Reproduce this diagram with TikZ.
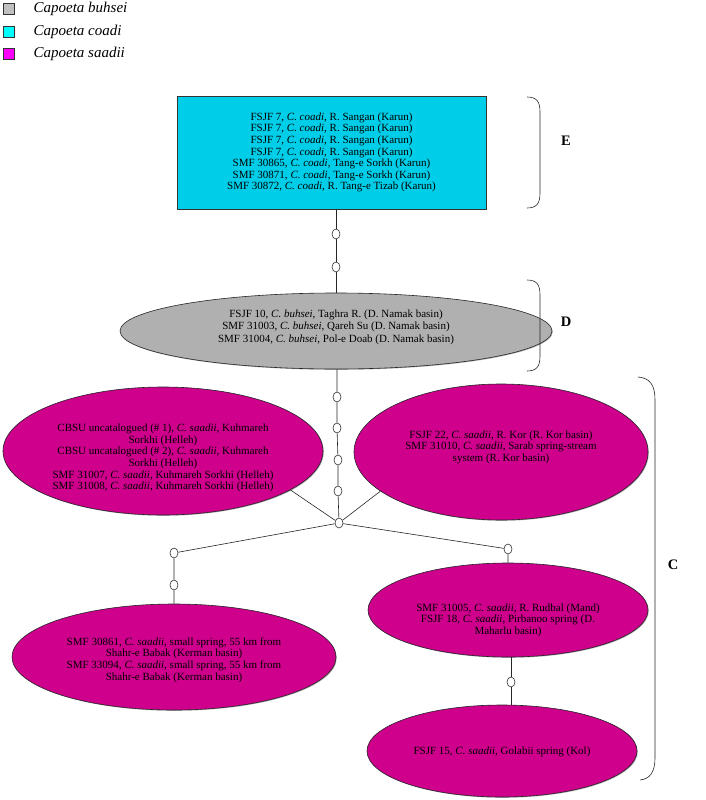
\documentclass[tikz,border=0pt]{standalone}
\usepackage{fontspec}
\setmainfont{Liberation Serif}
\usepackage{xcolor}
\usetikzlibrary{shapes.geometric, positioning, shadows}
\definecolor{buhsei}{RGB}{176,176,176}
\definecolor{coadi}{RGB}{0,206,232}
\definecolor{saadii}{RGB}{206,0,140}
\definecolor{lgray}{RGB}{192,192,192}
\definecolor{lcyan}{RGB}{0,255,255}
\definecolor{lmagenta}{RGB}{255,0,255}
\tikzstyle{link} = [line width=0.6pt, black!85]

\begin{document}
\begin{tikzpicture}[x=1pt, y=-1pt,
    clade/.style={ellipse, draw=black!85, fill=saadii, line width=0.6pt, inner sep=0pt, drop shadow={shadow xshift=0.8pt, shadow yshift=-0.8pt, opacity=0.6}},
    haplo/.style={ellipse, draw=black!85, fill=white, line width=0.6pt, minimum width=8pt, minimum height=10pt, inner sep=0pt},
    rec/.style={align=center, inner sep=0pt, font=\fontsize{11}{11.6}\selectfont},
    legbox/.style={rectangle, draw=black!80, line width=0.8pt, minimum size=11pt, inner sep=0pt},
    legtext/.style={inner sep=0pt, font=\fontsize{15}{17}\selectfont\itshape},
    grp/.style={font=\fontsize{14.5}{16}\selectfont\bfseries},
    node distance=0.2cm and 0.5cm
  ]
    \useasboundingbox (0,0) rectangle (706,800);

    % Legend
    \node[legbox, fill=lgray] (lg1) at (8.5,8.5) {};
    \node[legbox, fill=lcyan] (lg2) at (8.5,31.5) {};
    \node[legbox, fill=lmagenta] (lg3) at (8.5,53.5) {};
    \node[legtext, right=19pt of lg1] (lt1) {Capoeta buhsei};
    \node[legtext, right=19pt of lg2] (lt2) {Capoeta coadi};
    \node[legtext, right=19pt of lg3] (lt3) {Capoeta saadii};

    % Group E
    \node[rectangle, draw=black!80, fill=coadi, line width=0.6pt, minimum width=309pt, minimum height=113pt, rec] (boxE) at (331.5,152.5)
      {FSJF 7, \textit{C. coadi}, R. Sangan (Karun)\\
       FSJF 7, \textit{C. coadi}, R. Sangan (Karun)\\
       FSJF 7, \textit{C. coadi}, R. Sangan (Karun)\\
       FSJF 7, \textit{C. coadi}, R. Sangan (Karun)\\
       SMF 30865, \textit{C. coadi}, Tang-e Sorkh (Karun)\\
       SMF 30871, \textit{C. coadi}, Tang-e Sorkh (Karun)\\
       SMF 30872, \textit{C. coadi}, R. Tang-e Tizab (Karun)};
    \node[haplo] (hE1) at (336,234) {};
    \node[haplo] (hE2) at (336,267) {};

    % Group D
    \node[clade, fill=buhsei, minimum width=432pt, minimum height=76pt] (ellD) at (336,331) {};
    \node[rec, font=\fontsize{11}{12.5}\selectfont] (txtD) at (336,327)
      {FSJF 10, \textit{C. buhsei}, Taghra R. (D. Namak basin)\\
       SMF 31003, \textit{C. buhsei}, Qareh Su (D. Namak basin)\\
       SMF 31004, \textit{C. buhsei}, Pol-e Doab (D. Namak basin)};
    \node[haplo] (hD1) at (337,397) {};
    \node[haplo] (hD2) at (337,428) {};
    \node[haplo] (hD3) at (338,460) {};
    \node[haplo] (hD4) at (338,491) {};
    \node[haplo] (hub) at (339,523) {};

    % Group C
    \node[clade, minimum width=320pt, minimum height=128pt] (hell) at (163,451) {};
    \node[rec] (txtHell) at (163,458)
      {CBSU uncatalogued (\# 1), \textit{C. saadii}, Kuhmareh\\ Sorkhi (Helleh)\\
       CBSU uncatalogued (\# 2), \textit{C. saadii}, Kuhmareh\\ Sorkhi (Helleh)\\
       SMF 31007, \textit{C. saadii}, Kuhmareh Sorkhi (Helleh)\\
       SMF 31008, \textit{C. saadii}, Kuhmareh Sorkhi (Helleh)};
    \node[clade, minimum width=294pt, minimum height=136pt] (kor) at (501,452) {};
    \node[rec] (txtKor) at (501,447)
      {FSJF 22, \textit{C. saadii}, R. Kor (R. Kor basin)\\
       SMF 31010, \textit{C. saadii}, Sarab spring-stream\\ system (R. Kor basin)};
    \node[haplo] (hK1) at (174,553) {};
    \node[haplo] (hK2) at (174,585) {};
    \node[clade, minimum width=324pt, minimum height=106pt] (kerm) at (174,657) {};
    \node[rec] (txtKerm) at (174,660)
      {SMF 30861, \textit{C. saadii}, small spring, 55 km from\\ Shahr-e Babak (Kerman basin)\\
       SMF 33094, \textit{C. saadii}, small spring, 55 km from\\ Shahr-e Babak (Kerman basin)};
    \node[haplo] (hM1) at (508,549) {};
    \node[clade, minimum width=280pt, minimum height=94pt] (mand) at (508,610) {};
    \node[rec] (txtMand) at (508,620)
      {SMF 31005, \textit{C. saadii}, R. Rudbal (Mand)\\
       FSJF 18, \textit{C. saadii}, Pirbanoo spring (D.\\ Maharlu basin)};
    \node[haplo] (hG1) at (511,682) {};
    \node[clade, minimum width=270pt, minimum height=92pt] (gol) at (502,751) {};
    \node[rec] (txtGol) at (502,752) {FSJF 15, \textit{C. saadii}, Golabii spring (Kol)};

    % Links
    \draw[link] (hE1 |- boxE.south) -- (hE1) -- (hE2) -- (hE2 |- ellD.north);
    \draw[link] (hD1 |- ellD.south) -- (hD1) -- (hD2) -- (hD3) -- (hD4) -- (hub);
    \draw[link] (hub) -- (hell.-17);
    \draw[link] (hub) -- (kor.198);
    \draw[link] (hub) -- (hK1) -- (hK2) -- (hK2 |- kerm.north);
    \draw[link] (hub) -- (hM1) -- (hM1 |- mand.north);
    \draw[link] (hG1 |- mand.south) -- (hG1) -- (hG1 |- gol.north);

    % Brackets
    \draw[link] (527,97) .. controls (537,97) and (540,102) .. (540,112) -- (540,193) .. controls (540,203) and (537,208) .. (527,208);
    \draw[link] (527,280) .. controls (537,280) and (540,285) .. (540,295) -- (540,356) .. controls (540,366) and (537,371) .. (527,371);
    \draw[link] (638,377) .. controls (650,378) and (655,385) .. (655,400) -- (655,758) .. controls (655,772) and (650,779) .. (640,780);
    \node[grp] (labE) at (566,141) {E};
    \node[grp] (labD) at (566,322) {D};
    \node[grp] (labC) at (673,565) {C};
  \end{tikzpicture}
\end{document}
